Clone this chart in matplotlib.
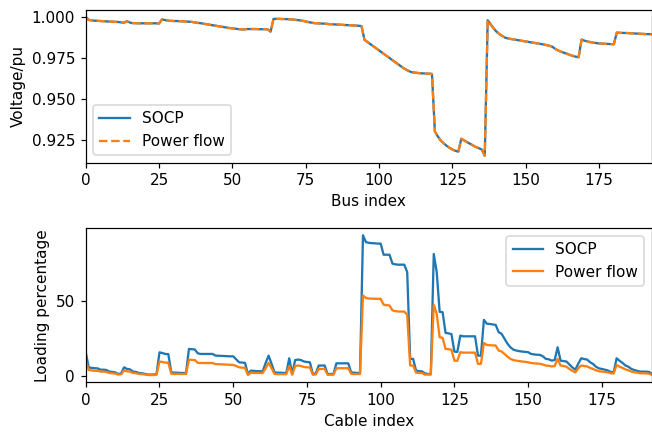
"""
Voltage profile and cable loading, SOCP vs power flow
"""
import numpy as np
import matplotlib
matplotlib.use('Agg')
import matplotlib.pyplot as plt
from matplotlib.ticker import MaxNLocator

#==================
# Bus voltages (pu), one value per bus
VOLTAGE_SOCP = [
    1.0000, 0.9982, 0.9979, 0.9977, 0.9976, 0.9975, 0.9974, 0.9973, 0.9972, 0.9971,
    0.9970, 0.9969, 0.9967, 0.9964, 0.9974, 0.9966, 0.9962, 0.9962, 0.9961, 0.9961,
    0.9961, 0.9961, 0.9961, 0.9961, 0.9961, 0.9960, 0.9985, 0.9981, 0.9977, 0.9976,
    0.9975, 0.9975, 0.9974, 0.9973, 0.9972, 0.9971, 0.9970, 0.9967, 0.9964, 0.9962,
    0.9959, 0.9956, 0.9953, 0.9950, 0.9947, 0.9944, 0.9941, 0.9938, 0.9935, 0.9932,
    0.9930, 0.9928, 0.9926, 0.9924, 0.9924, 0.9926, 0.9926, 0.9926, 0.9926, 0.9925,
    0.9925, 0.9925, 0.9924, 0.9910, 0.9988, 0.9988, 0.9988, 0.9987, 0.9987, 0.9986,
    0.9985, 0.9983, 0.9981, 0.9979, 0.9976, 0.9972, 0.9968, 0.9965, 0.9962, 0.9961,
    0.9960, 0.9959, 0.9958, 0.9956, 0.9955, 0.9954, 0.9953, 0.9952, 0.9951, 0.9950,
    0.9949, 0.9948, 0.9947, 0.9946, 0.9944, 0.9860, 0.9847, 0.9834, 0.9821, 0.9808,
    0.9795, 0.9782, 0.9769, 0.9756, 0.9743, 0.9730, 0.9717, 0.9704, 0.9691, 0.9680,
    0.9670, 0.9663, 0.9660, 0.9658, 0.9656, 0.9655, 0.9654, 0.9653, 0.9652, 0.9300,
    0.9270, 0.9245, 0.9228, 0.9213, 0.9200, 0.9190, 0.9182, 0.9177, 0.9256, 0.9245,
    0.9235, 0.9225, 0.9215, 0.9205, 0.9198, 0.9190, 0.9152, 0.9980, 0.9955, 0.9930,
    0.9910, 0.9895, 0.9883, 0.9873, 0.9868, 0.9865, 0.9862, 0.9859, 0.9856, 0.9853,
    0.9850, 0.9847, 0.9844, 0.9841, 0.9838, 0.9835, 0.9832, 0.9828, 0.9824, 0.9818,
    0.9805, 0.9795, 0.9788, 0.9781, 0.9775, 0.9768, 0.9762, 0.9757, 0.9754, 0.9862,
    0.9855, 0.9850, 0.9846, 0.9843, 0.9840, 0.9838, 0.9837, 0.9836, 0.9835, 0.9834,
    0.9833, 0.9904, 0.9903, 0.9902, 0.9902, 0.9901, 0.9900, 0.9899, 0.9898, 0.9897,
    0.9896, 0.9895, 0.9895, 0.9894,
]
# power flow result lies on top of the SOCP one
VOLTAGE_PF = list(VOLTAGE_SOCP)

#==================
# Cable loading (%), one value per cable
LOADING_SOCP = [
    15.7, 5.6, 5.2, 5.0, 4.9, 4.0, 4.0, 3.8, 2.7, 2.5,
    2.2, 1.1, 1.5, 5.6, 4.5, 4.2, 2.7, 2.5, 1.8, 1.6,
    1.2, 0.7, 0.7, 0.7, 1.0, 15.7, 15.2, 14.6, 14.5, 2.2,
    2.0, 2.0, 1.8, 1.8, 1.8, 18.0, 17.8, 17.6, 15.0, 14.6,
    14.6, 14.6, 14.6, 14.6, 13.5, 13.4, 13.3, 13.2, 13.1, 13.0,
    13.0, 11.0, 9.0, 8.8, 8.6, 1.1, 3.4, 3.2, 3.0, 3.0,
    2.9, 8.5, 13.5, 8.0, 2.2, 2.0, 2.0, 1.8, 1.8, 11.7,
    1.1, 10.5, 10.8, 10.5, 9.5, 9.2, 9.0, 1.1, 1.5, 6.8,
    6.8, 6.8, 1.1, 1.1, 1.1, 8.3, 8.3, 8.3, 8.3, 8.3,
    2.2, 2.0, 1.8, 1.8, 94.6, 90.0, 89.5, 89.3, 89.2, 89.0,
    89.0, 81.5, 81.5, 81.5, 75.5, 75.0, 74.8, 74.8, 74.8, 69.8,
    11.3, 11.3, 3.4, 3.0, 2.9, 1.5, 1.1, 1.1, 82.0, 70.0,
    43.0, 42.8, 28.8, 28.5, 28.0, 16.2, 16.0, 27.0, 26.5, 26.5,
    26.5, 26.5, 26.5, 13.5, 13.5, 37.6, 35.0, 34.8, 34.5, 34.2,
    29.3, 28.2, 24.8, 21.5, 19.1, 17.5, 16.9, 16.5, 16.2, 16.0,
    15.8, 14.6, 14.3, 14.1, 14.0, 13.0, 11.3, 11.0, 10.1, 10.5,
    19.1, 10.1, 9.8, 9.5, 7.5, 5.5, 4.0, 8.0, 11.7, 11.2,
    10.8, 9.0, 7.9, 6.0, 4.9, 4.5, 4.0, 3.5, 2.5, 2.2,
    11.7, 10.0, 8.6, 6.8, 6.0, 4.5, 3.8, 3.2, 2.7, 2.7,
    2.7, 2.5, 1.1,
]
LOADING_PF = [
    10.0, 3.8, 3.5, 3.3, 3.2, 2.7, 2.7, 2.5, 1.8, 1.6,
    1.4, 0.7, 1.0, 3.5, 2.9, 2.7, 1.8, 1.6, 1.2, 1.0,
    0.8, 0.4, 0.4, 0.4, 0.6, 9.5, 9.2, 8.8, 8.7, 1.3,
    1.2, 1.2, 1.1, 1.1, 1.1, 10.8, 10.6, 10.5, 8.6, 8.5,
    8.5, 8.5, 8.5, 8.5, 7.8, 7.7, 7.6, 7.5, 7.4, 7.3,
    7.2, 6.5, 5.6, 5.4, 5.2, 0.5, 2.0, 1.8, 1.8, 1.8,
    1.8, 5.0, 8.6, 5.0, 1.2, 1.0, 1.0, 1.0, 1.0, 6.5,
    0.6, 6.5, 6.8, 6.5, 5.8, 5.6, 5.5, 0.6, 0.8, 4.5,
    4.5, 4.5, 0.6, 0.6, 0.6, 5.0, 5.0, 5.0, 5.0, 5.0,
    1.3, 1.1, 1.1, 1.1, 54.0, 52.3, 52.0, 51.9, 51.8, 51.8,
    51.8, 47.8, 47.5, 47.3, 44.0, 43.5, 43.2, 43.2, 43.2, 41.0,
    6.8, 6.8, 2.0, 1.8, 1.8, 0.7, 0.7, 0.7, 47.8, 41.7,
    25.9, 25.5, 18.0, 17.8, 17.5, 10.1, 10.0, 15.8, 15.5, 15.5,
    15.5, 15.5, 15.5, 7.9, 7.9, 22.0, 20.7, 20.5, 20.4, 20.3,
    16.9, 16.3, 14.6, 12.8, 11.3, 10.5, 10.1, 9.8, 9.5, 9.3,
    9.0, 8.5, 8.3, 8.1, 8.0, 7.5, 6.8, 6.6, 6.2, 6.5,
    11.3, 6.8, 6.5, 6.0, 4.5, 3.2, 2.2, 5.0, 6.8, 6.5,
    6.2, 5.2, 4.5, 3.6, 3.0, 2.7, 2.5, 2.2, 1.6, 1.4,
    7.2, 6.0, 5.2, 4.2, 3.6, 2.7, 2.3, 2.0, 1.6, 1.6,
    1.5, 1.3, 0.5,
]

BUS_IDX = np.arange(len(VOLTAGE_SOCP))
CABLE_IDX = np.arange(len(LOADING_SOCP))

DPI = 110
FIG = plt.figure(figsize=(652 / DPI, 432 / DPI), dpi=DPI)
AX1 = FIG.add_axes([0.1315, 0.6234, 0.8685, 0.3535])
AX2 = FIG.add_axes([0.1315, 0.1157, 0.8685, 0.3558])

# top: voltages
AX1.plot(BUS_IDX, VOLTAGE_SOCP, color='tab:blue', label='SOCP')
AX1.plot(BUS_IDX, VOLTAGE_PF, color='tab:orange', ls='--', label='Power flow')
AX1.set_xlim(0, len(BUS_IDX) - 1)
AX1.yaxis.set_major_locator(MaxNLocator(nbins=4, steps=[1, 2, 2.5, 5, 10]))
AX1.set_xlabel('Bus index')
AX1.set_ylabel('Voltage/pu')
AX1.legend(loc='lower left')

# bottom: cable loading
AX2.plot(CABLE_IDX, LOADING_SOCP, color='tab:blue', label='SOCP')
AX2.plot(CABLE_IDX, LOADING_PF, color='tab:orange', label='Power flow')
AX2.set_xlim(0, len(CABLE_IDX) - 1)
AX2.yaxis.set_major_locator(MaxNLocator(nbins=4, steps=[1, 2, 2.5, 5, 10]))
AX2.set_xlabel('Cable index')
AX2.set_ylabel('Loading percentage')
AX2.legend(loc='upper right')

FIG.savefig('out.png', dpi=DPI)
